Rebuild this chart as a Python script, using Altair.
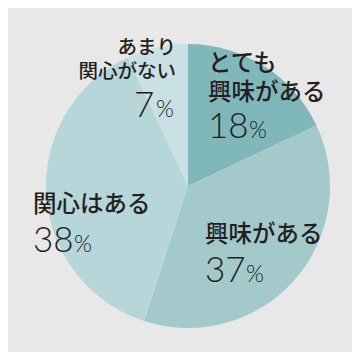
import altair as alt
import pandas as pd

# --- data ---
categories = ["とても興味がある", "興味がある", "関心はある", "あまり関心がない"]
values = [18, 37, 38, 7]
colors = ["#80b7ba", "#a3c9cb", "#b6d6d9", "#c9e1e4"]

label_lines = [["とても", "興味がある"], ["興味がある"], ["関心はある"], ["あまり", "関心がない"]]

df = pd.DataFrame({"category": categories, "value": values, "order": list(range(len(values)))})

# --- layout (chart pixel coords, page minus 8px margin) ---
CX, CY, R = 180, 178, 142
# per label: (anchor x, align, first-line baseline, line height, number baseline)
layout = [
    (200, "left", 63, 29, 130),
    (197, "left", 234, 29, 274),
    (25, "left", 204, 29, 244),
    (168, "right", 46, 24, 109),
]
line_sizes = [23.5, 23.5, 23.5, 19.5]

rows = []
for i, (ax, align, y0, lh, ny) in enumerate(layout):
    rows.append({"text": "\n".join(label_lines[i]), "x": ax, "y": y0, "kind": "line",
                 "size": line_sizes[i], "al": align, "lh": lh})
    num = str(values[i])
    if align == "left":
        nx = ax
        px = ax + (19 * len(num)) + 3
    else:
        px = ax - 20
        nx = px - 3 - 19 * len(num)
    rows.append({"text": num, "x": nx, "y": ny, "kind": "num", "size": 35, "al": "left", "lh": 0})
    rows.append({"text": "%", "x": px, "y": ny, "kind": "pct", "size": 23, "al": "left", "lh": 0})
lab = pd.DataFrame(rows)

pie = alt.Chart(df).mark_arc(radius=R, stroke=None).encode(
    theta=alt.Theta("value:Q", stack=True),
    order=alt.Order("order:Q"),
    color=alt.Color("category:N", scale=alt.Scale(domain=categories, range=colors), legend=None),
    x=alt.value(CX),
    y=alt.value(CY),
)


def text_layer(flt, align, font, weight, lh):
    return alt.Chart(lab).transform_filter(flt).mark_text(
        font=font, fontWeight=weight, color="#231f20", align=align, baseline="alphabetic",
        lineBreak="\n", lineHeight=lh
    ).encode(
        x=alt.X("x:Q", scale=None),
        y=alt.Y("y:Q", scale=None),
        text="text:N",
        size=alt.Size("size:Q", scale=None, legend=None),
    )


lines_left = text_layer("datum.kind == 'line' && datum.al == 'left'", "left", "Noto Sans CJK JP", 500, 29)
lines_right = text_layer("datum.kind == 'line' && datum.al == 'right'", "right", "Noto Sans CJK JP", 500, 24)
nums = text_layer("datum.kind != 'line'", "left", "Lato", 300, 30)

chart = alt.layer(pie, lines_left, lines_right, nums).properties(
    width=344, height=344, autosize="none", padding=0, background="#e8e8e8"
).configure_view(stroke=None)

chart.save("out.html", embed_options={"renderer": "svg", "actions": False})
